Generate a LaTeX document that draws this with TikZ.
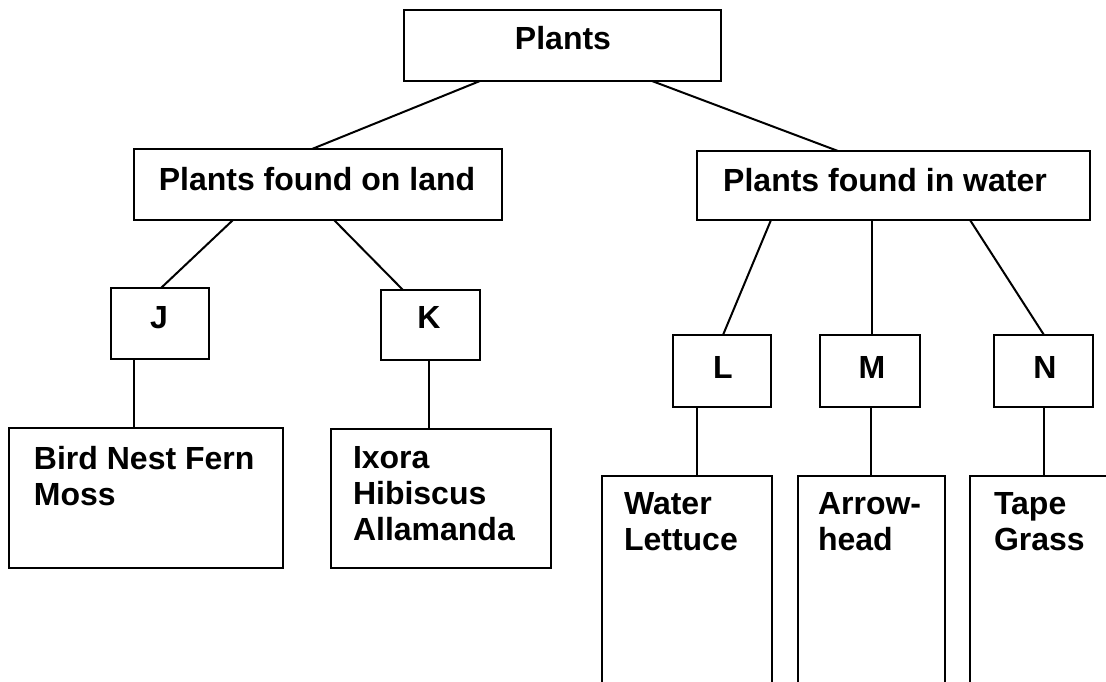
\documentclass[tikz,border=0pt]{standalone}
\usepackage{fontspec}
\setmainfont{Liberation Sans}
\begin{document}
\begin{tikzpicture}[x=1pt,y=-1pt,
  box/.style={draw=black,line width=2.3pt,rectangle,inner sep=0pt,outer sep=0pt,fill=none},
  txt/.style={inner sep=0pt,outer sep=0pt,font=\fontsize{32}{36}\selectfont\bfseries},
  mtxt/.style={txt,align=left,anchor=north west},
  upper/.style={line width=2pt},
  lower/.style={line width=1.2pt}]
\useasboundingbox (0,0) rectangle (1106,682);
\clip (0,0) rectangle (1106,682);
% boxes
\node[box,minimum width=317pt,minimum height=71pt] (root) at (562.5,45.5) {};
\node[box,minimum width=368pt,minimum height=71pt] (land) at (318,184.5) {};
\node[box,minimum width=393pt,minimum height=69pt] (water) at (893.5,185.5) {};
\node[box,minimum width=98pt,minimum height=71pt] (J) at (160,323.5) {};
\node[box,minimum width=99pt,minimum height=70pt] (K) at (430.5,325) {};
\node[box,minimum width=98pt,minimum height=72pt] (L) at (722,371) {};
\node[box,minimum width=100pt,minimum height=72pt] (M) at (870,371) {};
\node[box,minimum width=99pt,minimum height=72pt] (N) at (1043.5,371) {};
\node[box,minimum width=274pt,minimum height=140pt] (bird) at (146,498) {};
\node[box,minimum width=220pt,minimum height=139pt] (ixora) at (441,498.5) {};
\node[box,minimum width=170pt,minimum height=224pt] (lettuce) at (687,588) {};
\node[box,minimum width=147pt,minimum height=224pt] (arrow) at (871.5,588) {};
\node[box,minimum width=150pt,minimum height=224pt] (tape) at (1045,588) {};
% texts
\node[txt,anchor=base] (rootT) at (563,50) {Plants};
\node[txt,anchor=base] (landT) at (317,190) {Plants found on land};
\node[txt,anchor=base] (waterT) at (885,191) {Plants found in water};
\node[txt,anchor=base] (JT) at (159,328) {J};
\node[txt,anchor=base] (KT) at (429,328) {K};
\node[txt,anchor=base] (LT) at (723,378) {L};
\node[txt,anchor=base] (MT) at (872,378) {M};
\node[txt,anchor=base] (NT) at (1045,378) {N};
\node[mtxt] (birdT) at (34,446) {Bird Nest Fern\\Moss};
\node[mtxt] (ixoraT) at (353,446) {Ixora\\Hibiscus\\Allamanda};
\node[mtxt] (lettuceT) at (624,492) {Water\\Lettuce};
\node[mtxt] (arrowT) at (818,492) {Arrow-\\head};
\node[mtxt] (tapeT) at (994,492) {Tape\\Grass};
% connectors
\draw[upper] ([xshift=76pt]root.south west) -- ([xshift=178pt]land.north west);
\draw[upper] ([xshift=248pt]root.south west) -- ([xshift=141pt]water.north west);
\draw[upper] ([xshift=99pt]land.south west) -- ([xshift=50pt]J.north west);
\draw[upper] ([xshift=200pt]land.south west) -- ([xshift=22pt]K.north west);
\draw[upper] ([xshift=74pt]water.south west) -- ([xshift=50pt]L.north west);
\draw[upper] ([xshift=175pt]water.south west) -- ([xshift=52pt]M.north west);
\draw[upper] ([xshift=273pt]water.south west) -- ([xshift=50pt]N.north west);
\draw[lower] ([xshift=23pt]J.south west) -- ([xshift=125pt]bird.north west);
\draw[lower] ([xshift=48pt]K.south west) -- ([xshift=98pt]ixora.north west);
\draw[lower] ([xshift=24pt]L.south west) -- ([xshift=95pt]lettuce.north west);
\draw[lower] ([xshift=51pt]M.south west) -- ([xshift=73pt]arrow.north west);
\draw[lower] ([xshift=50pt]N.south west) -- ([xshift=74pt]tape.north west);
\end{tikzpicture}
\end{document}
